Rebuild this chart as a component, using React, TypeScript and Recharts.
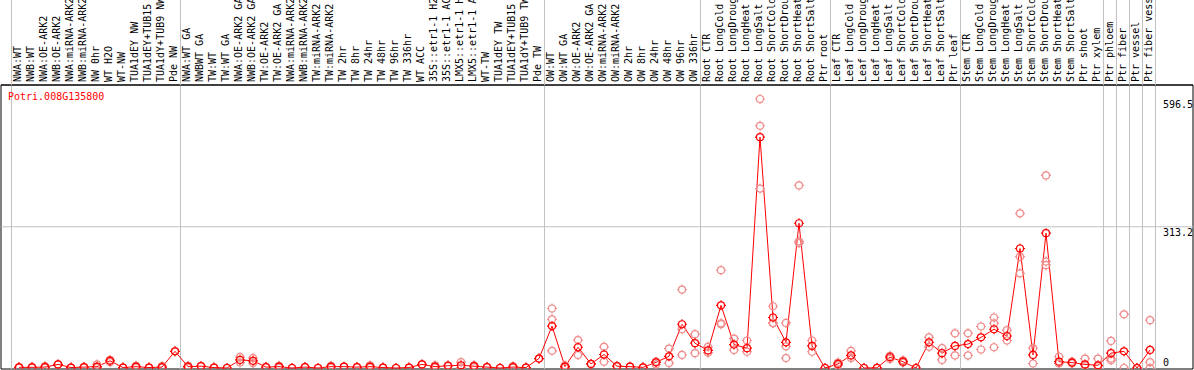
import React from "react";
import {
  ComposedChart,
  Line,
  Scatter,
  XAxis,
  YAxis,
  ReferenceLine,
  ReferenceArea,
} from "recharts";

document.body.style.margin = "0";

const CATEGORIES = [
  // no-wood / normal wood
  "NWA:WT", "NWB:WT", "NWA:OE-ARK2", "NWB:OE-ARK2", "NWA:miRNA-ARK2", "NWB:miRNA-ARK2",
  "NW 0hr", "WT H2O", "WT-NW", "TUA1dEY NW", "TUA1dEY+TUB15 NW", "TUA1dY+TUB9 NW", "Pde NW",
  // tension wood
  "NWA:WT GA", "NWBWT GA", "TW:WT", "TW:WT GA", "NWA:OE-ARK2 GA", "NWB:OE-ARK2 GA",
  "TW:OE-ARK2", "TW:OE-ARK2 GA", "NWA:miRNA-ARK2 GA", "NWB:miRNA-ARK2 GA", "TW:miRNA-ARK2",
  "TW:miRNA-ARK2 GA", "TW 2hr", "TW 8hr", "TW 24hr", "TW 48hr", "TW 96hr", "TW 336hr", "WT ACC",
  "35S::etr1-1 H2O", "35S::etr1-1 ACC", "LMX5::etr1-1 H2O", "LMX5::etr1-1 ACC", "WT-TW",
  "TUA1dEY TW", "TUA1dEY+TUB15 TW", "TUA1dY+TUB9 TW", "Pde TW",
  // opposite wood
  "OW:WT", "OW:WT GA", "OW:OE-ARK2", "OW:OE-ARK2 GA", "OW:miRNA-ARK2", "OW:miRNA-ARK2 GA",
  "OW 2hr", "OW 8hr", "OW 24hr", "OW 48hr", "OW 96hr", "OW 336hr",
  // root
  "Root CTR", "Root LongCold", "Root LongDrought", "Root LongHeat", "Root LongSalt",
  "Root ShortCold", "Root ShortDrought", "Root ShortHeat", "Root ShortSalt", "Ptr root",
  // leaf
  "Leaf CTR", "Leaf LongCold", "Leaf LongDrought", "Leaf LongHeat", "Leaf LongSalt",
  "Leaf ShortCold", "Leaf ShortDrought", "Leaf ShortHeat", "Leaf ShortSalt", "Ptr leaf",
  // stem
  "Stem CTR", "Stem LongCold", "Stem LongDrought", "Stem LongHeat", "Stem LongSalt",
  "Stem ShortCold", "Stem ShortDrought", "Stem ShortHeat", "Stem ShortSalt", "Ptr shoot", "Ptr xylem",
  "Ptr phloem", "Ptr fiber", "Ptr vessel", "Ptr fiber vessel",
];

// first index of each group (last entry closes the final group)
const GROUP_STARTS = [0, 13, 41, 53, 63, 73, 84, 85, 86, 87, 88];

const MEANS = [
  1.5, 1.5, 2, 8, 1, 2, 3, 16, 1, 3, 1, 2, 37,
  3, 4, 1, 0, 18, 16, 2, 3, 0, 2, 0, 3, 3, 2, 3, 1, 0, 1, 8, 3, 5, 6, 4, 2, 0, 2, 1, 21,
  93, 3, 46, 9, 30, 4, 3, 1.5, 12.6, 26, 97, 55,
  39, 139, 52, 44, 512, 112, 57, 321, 49, 0,
  9, 28, 0, 0.5, 24, 14, 0, 57, 33, 49,
  53, 68, 86, 71, 265, 29, 299, 14, 12, 8, 6,
  33, 37, 0, 40,
];

const REPLICATES = [
  [1, 2], [1, 2], [4, 1], [8], [1], [2, 1], [8, 1], [18, 13], [1], [5, 1], [1], [4, 1], [37],
  [5, 1], [4], [1], [0], [24, 12], [22, 11], [2], [5, 1], [0], [2], [0], [5, 1], [3], [2], [6, 1],
  [1], [0], [1], [8], [6, 1], [6, 4], [13, 1], [6, 2], [2], [0], [4, 1], [1], [21],
  [132, 108, 38], [6, 1], [62, 29], [9], [47, 14], [4], [3], [1], [14, 8], [43, 11], [174, 86, 29], [75, 33],
  [47, 34], [217, 99, 97], [65, 40], [61, 36], [596.5, 537, 398], [137, 99, 100], [100, 48, 22],
  [405, 281, 277], [61, 36], [0],
  [12, 6], [38, 22], [0], [0], [27, 20], [17, 12], [0], [68, 47], [44, 18], [77, 28],
  [77, 28], [92, 41], [112, 99, 46], [84, 61], [343, 247, 210], [44, 10], [427, 236, 228],
  [25, 10], [14, 10], [21, 5], [21, 4],
  [60, 21, 17], [119, 0], [0, 0], [106, 13, 0],
];

const Y_TICKS = [0, 313.2, 596.5];
const GENE = "Potri.008G135800";

const MONO = "DejaVu Sans Mono";
const RED = "#ff0000";
const PINK = "#f08c8c";
const GRID = "#c0c0c0";

const meanData = MEANS.map((m, i) => ({ x: i, mean: m }));
const repData = REPLICATES.flatMap((reps, i) => reps.map((v) => ({ x: i, y: v })));
const boundaries = GROUP_STARTS.map((s) => s - 0.58);
const xTicks = [...CATEGORIES.map((_, i) => i), ...boundaries];

const xDomain: [number, number] = [-18 / 13, 1174 / 13];
const yDomain: [number, number] = [-2.2, 627.6];

const Ring = ({ cx, cy, color }: { cx: number; cy: number; color: string }) => {
  if (cx == null || cy == null) return null;
  return (
    <g stroke={color} fill="none" strokeWidth={1.2}>
      <circle cx={cx} cy={cy} r={3.5} />
      <line x1={cx} x2={cx} y1={cy - 5} y2={cy - 3.5} />
      <line x1={cx} x2={cx} y1={cy + 3.5} y2={cy + 5} />
      <line x1={cx - 5} x2={cx - 3.5} y1={cy} y2={cy} />
      <line x1={cx + 3.5} x2={cx + 5} y1={cy} y2={cy} />
    </g>
  );
};

const HeaderTick = (props: any) => {
  const { x, y, payload } = props;
  const v = payload.value;
  if (!Number.isInteger(v)) {
    // group separator running up through the label band
    return <line x1={x} x2={x} y1={y - 85} y2={y} stroke={GRID} />;
  }
  return (
    <text
      transform={`translate(${x + 2},${y - 3}) rotate(-90)`}
      fontSize={10}
      fontFamily={MONO}
      fill="#000"
    >
      {CATEGORIES[v]}
    </text>
  );
};

const ValueTick = (props: any) => {
  const { x, y, payload } = props;
  const v = payload.value;
  return (
    <text x={x - 30} y={v === 0 ? y - 2 : y + 9} fontSize={10} fontFamily={MONO} fill="#000">
      {v}
    </text>
  );
};

export default function App() {
  return (
    <div style={{ position: "relative", width: 1194, height: 370 }}>
      <ComposedChart
        width={1194}
        height={370}
        data={meanData}
        margin={{ top: 0, right: 1, bottom: 1, left: 1 }}
      >
        <XAxis
          dataKey="x"
          type="number"
          orientation="top"
          height={85}
          domain={xDomain}
          allowDataOverflow
          ticks={xTicks}
          interval={0}
          tick={<HeaderTick />}
          tickLine={false}
          tickSize={0}
          tickMargin={0}
          axisLine={{ stroke: "#000" }}
        />
        <YAxis
          type="number"
          orientation="right"
          mirror
          domain={yDomain}
          allowDataOverflow
          ticks={Y_TICKS}
          interval={0}
          tick={<ValueTick />}
          tickLine={false}
          tickSize={0}
          tickMargin={0}
          axisLine={false}
        />
        {boundaries.map((b) => (
          <ReferenceLine key={b} x={b} stroke={GRID} />
        ))}
        <ReferenceLine y={313.2} stroke={GRID} />
        <ReferenceArea
          x1={xDomain[0]}
          x2={xDomain[1]}
          y1={yDomain[0]}
          y2={yDomain[1]}
          fill="none"
          stroke="#000"
        />
        <Scatter
          data={repData}
          dataKey="y"
          isAnimationActive={false}
          shape={(p: any) => <Ring cx={p.cx} cy={p.cy} color={PINK} />}
        />
        <Line
          type="linear"
          dataKey="mean"
          stroke={RED}
          strokeWidth={1}
          isAnimationActive={false}
          dot={(p: any) => <Ring key={`m${p.index}`} cx={p.cx} cy={p.cy} color={RED} />}
          activeDot={false}
        />
      </ComposedChart>
      <div
        style={{
          position: "absolute",
          left: 8,
          top: 91,
          fontFamily: MONO,
          fontSize: 10,
          color: RED,
          lineHeight: "12px",
        }}
      >
        {GENE}
      </div>
    </div>
  );
}
